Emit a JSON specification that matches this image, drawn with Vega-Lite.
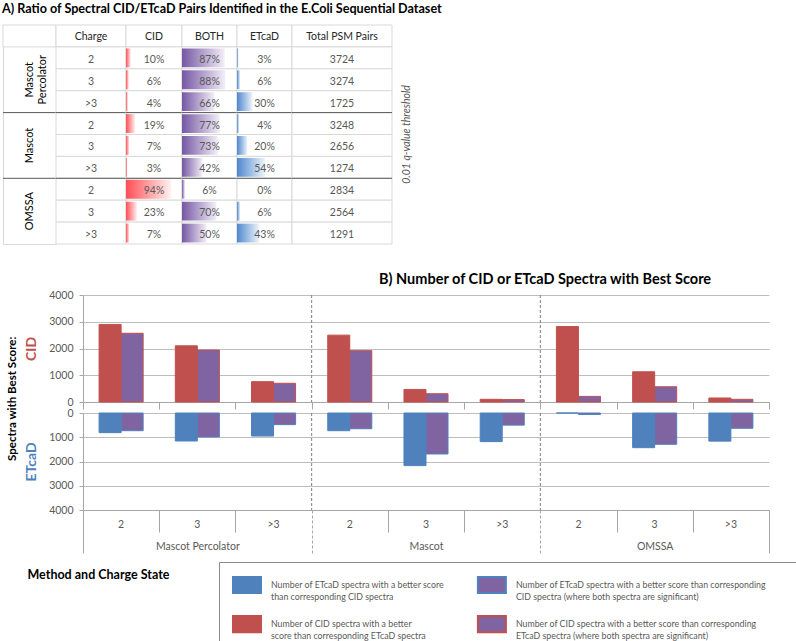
{
  "$schema": "https://vega.github.io/schema/vega-lite/v6.json",
  "background": "white",
  "padding": {"left": 2, "top": 3, "right": 0, "bottom": 0},
  "config": {
    "font": "Lato",
    "view": {"stroke": null},
    "title": {"font": "Lato", "color": "#000000", "fontWeight": "bold"},
    "axis": {"labelFont": "Lato", "labelColor": "#595959", "labelFontSize": 10.5, "domainColor": "#A6A6A6", "tickColor": "#A6A6A6", "gridColor": "#BDBDBD", "titleFont": "Lato"}
  },
  "datasets": {
    "tbl": [
      {"row": 1, "method": "Mascot Percolator", "charge": "2", "CID": 0.10, "BOTH": 0.87, "ETcaD": 0.03, "total": 3724},
      {"row": 2, "method": "Mascot Percolator", "charge": "3", "CID": 0.06, "BOTH": 0.88, "ETcaD": 0.06, "total": 3274},
      {"row": 3, "method": "Mascot Percolator", "charge": ">3", "CID": 0.04, "BOTH": 0.66, "ETcaD": 0.30, "total": 1725},
      {"row": 4, "method": "Mascot", "charge": "2", "CID": 0.19, "BOTH": 0.77, "ETcaD": 0.04, "total": 3248},
      {"row": 5, "method": "Mascot", "charge": "3", "CID": 0.07, "BOTH": 0.73, "ETcaD": 0.20, "total": 2656},
      {"row": 6, "method": "Mascot", "charge": ">3", "CID": 0.03, "BOTH": 0.42, "ETcaD": 0.54, "total": 1274},
      {"row": 7, "method": "OMSSA", "charge": "2", "CID": 0.94, "BOTH": 0.06, "ETcaD": 0.00, "total": 2834},
      {"row": 8, "method": "OMSSA", "charge": "3", "CID": 0.23, "BOTH": 0.70, "ETcaD": 0.06, "total": 2564},
      {"row": 9, "method": "OMSSA", "charge": ">3", "CID": 0.07, "BOTH": 0.50, "ETcaD": 0.43, "total": 1291}
    ],
    "bars": [
      {"key": "Mascot Percolator|2", "panel": "CID", "series": "all", "value": 2900},
      {"key": "Mascot Percolator|2", "panel": "CID", "series": "both", "value": 2570},
      {"key": "Mascot Percolator|3", "panel": "CID", "series": "all", "value": 2100},
      {"key": "Mascot Percolator|3", "panel": "CID", "series": "both", "value": 1940},
      {"key": "Mascot Percolator|>3", "panel": "CID", "series": "all", "value": 760},
      {"key": "Mascot Percolator|>3", "panel": "CID", "series": "both", "value": 700},
      {"key": "Mascot|2", "panel": "CID", "series": "all", "value": 2500},
      {"key": "Mascot|2", "panel": "CID", "series": "both", "value": 1920},
      {"key": "Mascot|3", "panel": "CID", "series": "all", "value": 470},
      {"key": "Mascot|3", "panel": "CID", "series": "both", "value": 310},
      {"key": "Mascot|>3", "panel": "CID", "series": "all", "value": 100},
      {"key": "Mascot|>3", "panel": "CID", "series": "both", "value": 90},
      {"key": "OMSSA|2", "panel": "CID", "series": "all", "value": 2820},
      {"key": "OMSSA|2", "panel": "CID", "series": "both", "value": 210},
      {"key": "OMSSA|3", "panel": "CID", "series": "all", "value": 1130},
      {"key": "OMSSA|3", "panel": "CID", "series": "both", "value": 570},
      {"key": "OMSSA|>3", "panel": "CID", "series": "all", "value": 150},
      {"key": "OMSSA|>3", "panel": "CID", "series": "both", "value": 100},
      {"key": "Mascot Percolator|2", "panel": "ETcaD", "series": "all", "value": 810},
      {"key": "Mascot Percolator|2", "panel": "ETcaD", "series": "both", "value": 730},
      {"key": "Mascot Percolator|3", "panel": "ETcaD", "series": "all", "value": 1155},
      {"key": "Mascot Percolator|3", "panel": "ETcaD", "series": "both", "value": 990},
      {"key": "Mascot Percolator|>3", "panel": "ETcaD", "series": "all", "value": 950},
      {"key": "Mascot Percolator|>3", "panel": "ETcaD", "series": "both", "value": 480},
      {"key": "Mascot|2", "panel": "ETcaD", "series": "all", "value": 730},
      {"key": "Mascot|2", "panel": "ETcaD", "series": "both", "value": 650},
      {"key": "Mascot|3", "panel": "ETcaD", "series": "all", "value": 2170},
      {"key": "Mascot|3", "panel": "ETcaD", "series": "both", "value": 1690},
      {"key": "Mascot|>3", "panel": "ETcaD", "series": "all", "value": 1180},
      {"key": "Mascot|>3", "panel": "ETcaD", "series": "both", "value": 500},
      {"key": "OMSSA|2", "panel": "ETcaD", "series": "all", "value": 0},
      {"key": "OMSSA|2", "panel": "ETcaD", "series": "both", "value": 60},
      {"key": "OMSSA|3", "panel": "ETcaD", "series": "all", "value": 1430},
      {"key": "OMSSA|3", "panel": "ETcaD", "series": "both", "value": 1290},
      {"key": "OMSSA|>3", "panel": "ETcaD", "series": "all", "value": 1160},
      {"key": "OMSSA|>3", "panel": "ETcaD", "series": "both", "value": 630}
    ],
    "legend": [
      {"item": "ETcaD all", "col": "c1", "row": "r1", "label": "Number of ETcaD spectra with a better score\nthan corresponding  CID spectra"},
      {"item": "CID all", "col": "c1", "row": "r2", "label": "Number of CID spectra with a better\nscore than corresponding ETcaD spectra"},
      {"item": "ETcaD both", "col": "c2", "row": "r1", "label": "Number of ETcaD spectra with a better score than corresponding\nCID spectra (where both spectra are significant)"},
      {"item": "CID both", "col": "c2", "row": "r2", "label": "Number of CID spectra with a better score than corresponding\nETcaD spectra (where both spectra are significant)"}
    ]
  },
  "spacing": -3,
  "vconcat": [
    {
      "spacing": 26,
      "vconcat": [
        {
          "title": {"text": "A) Ratio of Spectral CID/ETcaD Pairs Identified in the E.Coli Sequential Dataset", "anchor": "start", "fontSize": 12.6, "offset": 8},
          "spacing": 0,
          "bounds": "flush",
          "hconcat": [
            {
              "width": 53, "height": 219,
              "view": {"stroke": "#D9D9D9"},
              "layer": [
                {"data": {"values": [{"row": 0}]}, "mark": {"type": "rect", "fill": "white", "stroke": "#D9D9D9"},
                 "encoding": {"y": {"field": "row", "type": "ordinal", "scale": {"domain": [0,1,2,3,4,5,6,7,8,9], "paddingInner": 0, "paddingOuter": 0}, "axis": null}}},
                {"data": {"name": "tbl"}, "transform": [{"filter": "datum.charge == '3'"}],
                 "mark": {"type": "text", "angle": 270, "lineBreak": " ", "fontSize": 11, "color": "#000000", "lineHeight": 13},
                 "encoding": {"y": {"field": "row", "type": "ordinal", "scale": {"domain": [0,1,2,3,4,5,6,7,8,9], "paddingInner": 0, "paddingOuter": 0}, "axis": null}, "text": {"field": "method"}}},
                {"data": {"name": "tbl"}, "transform": [{"filter": "datum.charge == '2' && datum.row > 1"}],
                 "mark": {"type": "rule", "color": "#595959"},
                 "encoding": {"y": {"field": "row", "type": "ordinal", "bandPosition": 0, "scale": {"domain": [0,1,2,3,4,5,6,7,8,9], "paddingInner": 0, "paddingOuter": 0}, "axis": null}}}
              ]
            },
            {
              "width": 70, "height": 219,
              "layer": [
                {"data": {"values": [{"row": 0, "label": "Charge"}]}, "mark": {"type": "rect", "fill": "white", "stroke": "#D9D9D9"},
                 "encoding": {"y": {"field": "row", "type": "ordinal", "scale": {"domain": [0,1,2,3,4,5,6,7,8,9], "paddingInner": 0, "paddingOuter": 0}, "axis": null}}},
                {"data": {"values": [{"row": 0, "label": "Charge"}]}, "mark": {"type": "text", "fontSize": 10.5, "color": "#262626", "dy": 1},
                 "encoding": {"y": {"field": "row", "type": "ordinal", "scale": {"domain": [0,1,2,3,4,5,6,7,8,9], "paddingInner": 0, "paddingOuter": 0}, "axis": null}, "text": {"field": "label"}}},
                {"data": {"name": "tbl"}, "mark": {"type": "rect", "fill": "white", "stroke": "#D9D9D9"},
                 "encoding": {"y": {"field": "row", "type": "ordinal", "scale": {"domain": [0,1,2,3,4,5,6,7,8,9], "paddingInner": 0, "paddingOuter": 0}, "axis": null}}},
                {"data": {"name": "tbl"}, "mark": {"type": "text", "fontSize": 10.5, "color": "#595959", "dy": 2},
                 "encoding": {"y": {"field": "row", "type": "ordinal", "scale": {"domain": [0,1,2,3,4,5,6,7,8,9], "paddingInner": 0, "paddingOuter": 0}, "axis": null}, "text": {"field": "charge"}}},
                {"data": {"name": "tbl"}, "transform": [{"filter": "datum.charge == '2' && datum.row > 1"}],
                 "mark": {"type": "rule", "color": "#595959"},
                 "encoding": {"y": {"field": "row", "type": "ordinal", "bandPosition": 0, "scale": {"domain": [0,1,2,3,4,5,6,7,8,9], "paddingInner": 0, "paddingOuter": 0}, "axis": null}}}
              ]
            },
            {
              "width": 56, "height": 219,
              "layer": [
                {"data": {"values": [{"row": 0, "label": "CID"}]}, "mark": {"type": "rect", "fill": "white", "stroke": "#D9D9D9"},
                 "encoding": {"y": {"field": "row", "type": "ordinal", "scale": {"domain": [0,1,2,3,4,5,6,7,8,9], "paddingInner": 0, "paddingOuter": 0}, "axis": null}}},
                {"data": {"values": [{"row": 0, "label": "CID"}]}, "mark": {"type": "text", "fontSize": 10.5, "color": "#262626", "dy": 1},
                 "encoding": {"y": {"field": "row", "type": "ordinal", "scale": {"domain": [0,1,2,3,4,5,6,7,8,9], "paddingInner": 0, "paddingOuter": 0}, "axis": null}, "text": {"field": "label"}}},
                {"data": {"name": "tbl"}, "mark": {"type": "rect", "fill": "white", "stroke": "#D9D9D9"},
                 "encoding": {"y": {"field": "row", "type": "ordinal", "scale": {"domain": [0,1,2,3,4,5,6,7,8,9], "paddingInner": 0, "paddingOuter": 0}, "axis": null}}},
                {"data": {"name": "tbl"}, "mark": {"type": "bar", "height": {"band": 0.86}, "color": {"gradient": "linear", "stops": [{"offset": 0, "color": "#FF4F55"}, {"offset": 1, "color": "#FFF2F2"}]}},
                 "encoding": {"y": {"field": "row", "type": "ordinal", "scale": {"domain": [0,1,2,3,4,5,6,7,8,9], "paddingInner": 0, "paddingOuter": 0}, "axis": null},
                              "x": {"field": "CID", "type": "quantitative", "scale": {"domain": [0, 1.16]}, "axis": null}}},
                {"data": {"name": "tbl"}, "mark": {"type": "text", "fontSize": 10.5, "color": "#595959", "dy": 2},
                 "encoding": {"y": {"field": "row", "type": "ordinal", "scale": {"domain": [0,1,2,3,4,5,6,7,8,9], "paddingInner": 0, "paddingOuter": 0}, "axis": null}, "text": {"field": "CID", "type": "quantitative", "format": ".0%"}}},
                {"data": {"name": "tbl"}, "transform": [{"filter": "datum.charge == '2' && datum.row > 1"}],
                 "mark": {"type": "rule", "color": "#595959"},
                 "encoding": {"y": {"field": "row", "type": "ordinal", "bandPosition": 0, "scale": {"domain": [0,1,2,3,4,5,6,7,8,9], "paddingInner": 0, "paddingOuter": 0}, "axis": null}}}
              ]
            },
            {
              "width": 55, "height": 219,
              "layer": [
                {"data": {"values": [{"row": 0, "label": "BOTH"}]}, "mark": {"type": "rect", "fill": "white", "stroke": "#D9D9D9"},
                 "encoding": {"y": {"field": "row", "type": "ordinal", "scale": {"domain": [0,1,2,3,4,5,6,7,8,9], "paddingInner": 0, "paddingOuter": 0}, "axis": null}}},
                {"data": {"values": [{"row": 0, "label": "BOTH"}]}, "mark": {"type": "text", "fontSize": 10.5, "color": "#262626", "dy": 1},
                 "encoding": {"y": {"field": "row", "type": "ordinal", "scale": {"domain": [0,1,2,3,4,5,6,7,8,9], "paddingInner": 0, "paddingOuter": 0}, "axis": null}, "text": {"field": "label"}}},
                {"data": {"name": "tbl"}, "mark": {"type": "rect", "fill": "white", "stroke": "#D9D9D9"},
                 "encoding": {"y": {"field": "row", "type": "ordinal", "scale": {"domain": [0,1,2,3,4,5,6,7,8,9], "paddingInner": 0, "paddingOuter": 0}, "axis": null}}},
                {"data": {"name": "tbl"}, "mark": {"type": "bar", "height": {"band": 0.86}, "color": {"gradient": "linear", "stops": [{"offset": 0, "color": "#7557A3"}, {"offset": 1, "color": "#F3EFF8"}]}},
                 "encoding": {"y": {"field": "row", "type": "ordinal", "scale": {"domain": [0,1,2,3,4,5,6,7,8,9], "paddingInner": 0, "paddingOuter": 0}, "axis": null},
                              "x": {"field": "BOTH", "type": "quantitative", "scale": {"domain": [0, 1.12]}, "axis": null}}},
                {"data": {"name": "tbl"}, "mark": {"type": "text", "fontSize": 10.5, "color": "#595959", "dy": 2},
                 "encoding": {"y": {"field": "row", "type": "ordinal", "scale": {"domain": [0,1,2,3,4,5,6,7,8,9], "paddingInner": 0, "paddingOuter": 0}, "axis": null}, "text": {"field": "BOTH", "type": "quantitative", "format": ".0%"}}},
                {"data": {"name": "tbl"}, "transform": [{"filter": "datum.charge == '2' && datum.row > 1"}],
                 "mark": {"type": "rule", "color": "#595959"},
                 "encoding": {"y": {"field": "row", "type": "ordinal", "bandPosition": 0, "scale": {"domain": [0,1,2,3,4,5,6,7,8,9], "paddingInner": 0, "paddingOuter": 0}, "axis": null}}}
              ]
            },
            {
              "width": 55, "height": 219,
              "layer": [
                {"data": {"values": [{"row": 0, "label": "ETcaD"}]}, "mark": {"type": "rect", "fill": "white", "stroke": "#D9D9D9"},
                 "encoding": {"y": {"field": "row", "type": "ordinal", "scale": {"domain": [0,1,2,3,4,5,6,7,8,9], "paddingInner": 0, "paddingOuter": 0}, "axis": null}}},
                {"data": {"values": [{"row": 0, "label": "ETcaD"}]}, "mark": {"type": "text", "fontSize": 10.5, "color": "#262626", "dy": 1},
                 "encoding": {"y": {"field": "row", "type": "ordinal", "scale": {"domain": [0,1,2,3,4,5,6,7,8,9], "paddingInner": 0, "paddingOuter": 0}, "axis": null}, "text": {"field": "label"}}},
                {"data": {"name": "tbl"}, "mark": {"type": "rect", "fill": "white", "stroke": "#D9D9D9"},
                 "encoding": {"y": {"field": "row", "type": "ordinal", "scale": {"domain": [0,1,2,3,4,5,6,7,8,9], "paddingInner": 0, "paddingOuter": 0}, "axis": null}}},
                {"data": {"name": "tbl"}, "mark": {"type": "bar", "height": {"band": 0.86}, "color": {"gradient": "linear", "stops": [{"offset": 0, "color": "#4F88CF"}, {"offset": 1, "color": "#EEF4FB"}]}},
                 "encoding": {"y": {"field": "row", "type": "ordinal", "scale": {"domain": [0,1,2,3,4,5,6,7,8,9], "paddingInner": 0, "paddingOuter": 0}, "axis": null},
                              "x": {"field": "ETcaD", "type": "quantitative", "scale": {"domain": [0, 1.06]}, "axis": null}}},
                {"data": {"name": "tbl"}, "mark": {"type": "text", "fontSize": 10.5, "color": "#595959", "dy": 2},
                 "encoding": {"y": {"field": "row", "type": "ordinal", "scale": {"domain": [0,1,2,3,4,5,6,7,8,9], "paddingInner": 0, "paddingOuter": 0}, "axis": null}, "text": {"field": "ETcaD", "type": "quantitative", "format": ".0%"}}},
                {"data": {"name": "tbl"}, "transform": [{"filter": "datum.charge == '2' && datum.row > 1"}],
                 "mark": {"type": "rule", "color": "#595959"},
                 "encoding": {"y": {"field": "row", "type": "ordinal", "bandPosition": 0, "scale": {"domain": [0,1,2,3,4,5,6,7,8,9], "paddingInner": 0, "paddingOuter": 0}, "axis": null}}}
              ]
            },
            {
              "width": 100, "height": 219,
              "layer": [
                {"data": {"values": [{"row": 0, "label": "Total PSM Pairs"}]}, "mark": {"type": "rect", "fill": "white", "stroke": "#D9D9D9"},
                 "encoding": {"y": {"field": "row", "type": "ordinal", "scale": {"domain": [0,1,2,3,4,5,6,7,8,9], "paddingInner": 0, "paddingOuter": 0}, "axis": null}}},
                {"data": {"values": [{"row": 0, "label": "Total PSM Pairs"}]}, "mark": {"type": "text", "fontSize": 10.5, "color": "#262626", "dy": 1},
                 "encoding": {"y": {"field": "row", "type": "ordinal", "scale": {"domain": [0,1,2,3,4,5,6,7,8,9], "paddingInner": 0, "paddingOuter": 0}, "axis": null}, "text": {"field": "label"}}},
                {"data": {"name": "tbl"}, "mark": {"type": "rect", "fill": "white", "stroke": "#D9D9D9"},
                 "encoding": {"y": {"field": "row", "type": "ordinal", "scale": {"domain": [0,1,2,3,4,5,6,7,8,9], "paddingInner": 0, "paddingOuter": 0}, "axis": null}}},
                {"data": {"name": "tbl"}, "mark": {"type": "text", "fontSize": 10.5, "color": "#595959", "dy": 2},
                 "encoding": {"y": {"field": "row", "type": "ordinal", "scale": {"domain": [0,1,2,3,4,5,6,7,8,9], "paddingInner": 0, "paddingOuter": 0}, "axis": null}, "text": {"field": "total", "type": "quantitative", "format": "d"}}},
                {"data": {"name": "tbl"}, "transform": [{"filter": "datum.charge == '2' && datum.row > 1"}],
                 "mark": {"type": "rule", "color": "#595959"},
                 "encoding": {"y": {"field": "row", "type": "ordinal", "bandPosition": 0, "scale": {"domain": [0,1,2,3,4,5,6,7,8,9], "paddingInner": 0, "paddingOuter": 0}, "axis": null}}}
              ]
            },
            {
              "width": 30, "height": 219,
              "data": {"values": [{"note": "0.01 q-value threshold"}]},
              "mark": {"type": "text", "angle": 270, "fontStyle": "italic", "fontSize": 10.5, "color": "#595959"},
              "encoding": {"text": {"field": "note"}}
            }
          ]
        },
        {
          "spacing": 0,
          "hconcat": [
            {"width": 4, "height": 10, "data": {"values": []}, "mark": "point"},
            {
              "title": {"text": "Spectra with Best Score:", "orient": "left", "anchor": "middle", "fontSize": 11.5, "offset": 6, "dx": 18},
              "spacing": -2,
              "resolve": {"scale": {"color": "independent"}},
              "vconcat": [
                {
                  "width": 686, "height": 107,
                  "title": {"text": "B) Number of CID or ETcaD Spectra with Best Score", "anchor": "start", "frame": "group", "dx": 296, "fontSize": 14.5, "offset": 3},
                  "data": {"name": "bars"},
                  "layer": [
                    {
                      "transform": [{"filter": "datum.panel == 'CID'"}],
                      "mark": {"type": "bar", "stroke": "#C0504D", "strokeWidth": 1},
                      "encoding": {
                        "x": {"field": "key", "type": "nominal", "sort": null,
                              "scale": {"domain": ["Mascot Percolator|2","Mascot Percolator|3","Mascot Percolator|>3","Mascot|2","Mascot|3","Mascot|>3","OMSSA|2","OMSSA|3","OMSSA|>3"], "paddingInner": 0, "paddingOuter": 0},
                              "axis": {"title": null, "labels": false, "tickBand": "extent", "tickSize": 7}},
                        "xOffset": {"field": "series", "type": "nominal", "scale": {"domain": ["all", "both"], "paddingInner": 0, "paddingOuter": 0.73}},
                        "y": {"field": "value", "type": "quantitative", "scale": {"domain": [0, 4000]},
                              "axis": {"values": [0, 1000, 2000, 3000, 4000], "format": "d", "grid": true, "tickSize": 4, "labelPadding": 6, "title": "CID", "titleColor": "#C0504D", "titleFontSize": 14, "titleFontWeight": "bold", "titlePadding": 10}},
                        "color": {"field": "series", "type": "nominal", "scale": {"domain": ["all", "both"], "range": ["#C0504D", "#8064A2"]}, "legend": null}
                      }
                    },
                    {
                      "transform": [{"filter": "datum.panel == 'CID' && datum.series == 'all' && split(datum.key, '|')[1] == '2' && datum.key != 'Mascot Percolator|2'"}],
                      "mark": {"type": "rule", "color": "#7F7F7F", "strokeDash": [3, 2]},
                      "encoding": {"x": {"field": "key", "type": "nominal", "bandPosition": 0}}
                    }
                  ]
                },
                {
                  "width": 686, "height": 97,
                  "data": {"name": "bars"},
                  "resolve": {"axis": {"x": "independent"}},
                  "layer": [
                    {
                      "transform": [{"filter": "datum.panel == 'ETcaD'"}],
                      "mark": {"type": "bar", "stroke": "#4F81BD", "strokeWidth": 1},
                      "encoding": {
                        "x": {"field": "key", "type": "nominal", "sort": null,
                              "scale": {"domain": ["Mascot Percolator|2","Mascot Percolator|3","Mascot Percolator|>3","Mascot|2","Mascot|3","Mascot|>3","OMSSA|2","OMSSA|3","OMSSA|>3"], "paddingInner": 0, "paddingOuter": 0},
                              "axis": {"title": null, "orient": "bottom", "labelAngle": 0, "labelExpr": "split(datum.label, '|')[1]", "ticks": false, "labelPadding": 9}},
                        "xOffset": {"field": "series", "type": "nominal", "scale": {"domain": ["all", "both"], "paddingInner": 0, "paddingOuter": 0.73}},
                        "y": {"field": "value", "type": "quantitative", "scale": {"domain": [0, 4000], "reverse": true},
                              "axis": {"values": [0, 1000, 2000, 3000, 4000], "format": "d", "grid": true, "tickSize": 4, "labelPadding": 6, "title": "ETcaD", "titleColor": "#4F81BD", "titleFontSize": 14, "titleFontWeight": "bold", "titlePadding": 10}},
                        "color": {"field": "series", "type": "nominal", "scale": {"domain": ["all", "both"], "range": ["#4F81BD", "#8064A2"]}, "legend": null}
                      }
                    },
                    {
                      "transform": [{"filter": "datum.panel == 'ETcaD' && datum.series == 'all' && split(datum.key, '|')[1] == '2' && datum.key != 'Mascot Percolator|2'"}],
                      "mark": {"type": "rule", "color": "#7F7F7F", "strokeDash": [3, 2]},
                      "encoding": {"x": {"field": "key", "type": "nominal", "bandPosition": 0,
                                         "axis": {"title": null, "orient": "bottom", "domain": false, "labelAngle": 0, "labelPadding": 9, "tickBand": "extent",
                                                  "labelFontSize": {"condition": {"test": "split(datum.value, '|')[1] == '3'", "value": 10.5}, "value": 0},
                                                  "tickSize": {"condition": {"test": "datum.extra || split(datum.value, '|')[1] == '>3'", "value": 43}, "value": 22},
                                                  "tickDash": {"condition": {"test": "datum.value == 'Mascot Percolator|>3' || datum.value == 'Mascot|>3'", "value": [3, 2]}, "value": []},
                                                  "labelExpr": "split(datum.label, '|')[1] == '3' ? split(datum.label, '|')[0] : ''"}}}
                    }
                  ]
                }
              ]
            }
          ]
        }
      ]
    },
    {
      "spacing": 24,
      "hconcat": [
        {
          "width": 191, "height": 26,
          "data": {"values": [{"t": "Method and Charge State"}]},
          "mark": {"type": "text", "fontWeight": "bold", "fontSize": 12.5, "color": "#000000"},
          "encoding": {"text": {"field": "t"}}
        },
        {
          "width": 578, "height": 82,
          "view": {"stroke": "#8C8C8C"},
          "data": {"name": "legend"},
          "layer": [
            {
              "mark": {"type": "point", "filled": true, "opacity": 1, "shape": "M-1,-0.58H1V0.58H-1Z", "size": 784, "strokeWidth": 2},
              "encoding": {
                "x": {"field": "col", "type": "nominal", "scale": {"type": "point", "domain": ["c1", "c2"], "padding": 0.68, "align": 0.084}, "axis": null},
                "y": {"field": "row", "type": "nominal", "scale": {"type": "point", "domain": ["r1", "r2"], "padding": 0.551, "align": 0.535}, "axis": null},
                "color": {"field": "item", "type": "nominal", "scale": {"domain": ["ETcaD all", "CID all", "ETcaD both", "CID both"], "range": ["#4F81BD", "#C0504D", "#8064A2", "#8064A2"]}, "legend": null},
                "stroke": {"field": "item", "type": "nominal", "scale": {"domain": ["ETcaD all", "CID all", "ETcaD both", "CID both"], "range": ["#4F81BD", "#C0504D", "#4F81BD", "#C0504D"]}, "legend": null}
              }
            },
            {
              "mark": {"type": "text", "align": "left", "dx": 24, "lineBreak": "\n", "fontSize": 8.8, "color": "#595959", "lineHeight": 12},
              "encoding": {
                "x": {"field": "col", "type": "nominal", "scale": {"type": "point", "domain": ["c1", "c2"], "padding": 0.68, "align": 0.084}, "axis": null},
                "y": {"field": "row", "type": "nominal", "scale": {"type": "point", "domain": ["r1", "r2"], "padding": 0.551, "align": 0.535}, "axis": null},
                "text": {"field": "label"}
              }
            }
          ]
        }
      ]
    }
  ]
}
